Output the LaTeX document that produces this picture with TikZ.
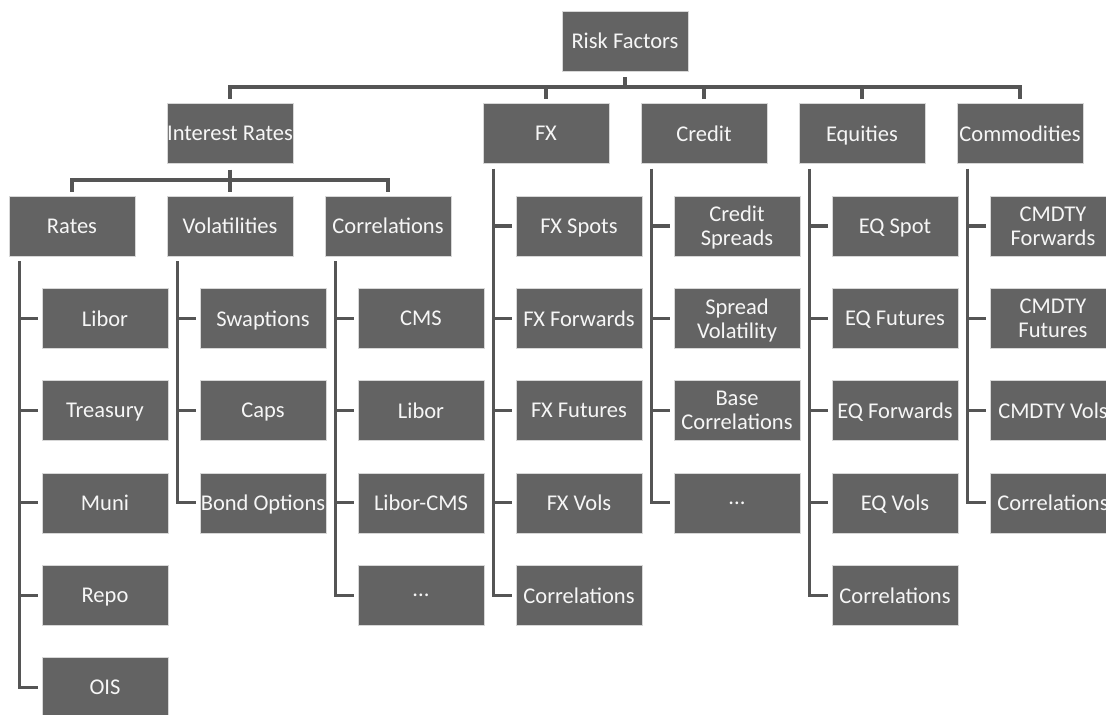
\documentclass[tikz,border=0pt]{standalone}
\usepackage{fontspec}
\setmainfont{Carlito}
\definecolor{boxfill}{RGB}{99,99,99}
\definecolor{boxedge}{RGB}{215,215,215}
\definecolor{linegray}{RGB}{85,85,85}
\definecolor{txt}{RGB}{246,246,246}
\newcommand{\wide}[1]{\makebox[0pt][c]{#1}}
\tikzset{
  rbox/.style={rectangle, minimum width=126pt, minimum height=60pt, inner sep=0pt,
    fill=boxfill, draw=boxedge, line width=0.7pt, text=txt, align=center, text depth=0pt,
    font=\fontsize{22.5}{24}\selectfont},
  conn/.style={draw=linegray, line width=3.1pt, line join=miter, line cap=butt}
}
\begin{document}
\begin{tikzpicture}[x=1pt,y=-1pt]
\useasboundingbox (0,0) rectangle (1106,715);
\clip (0,0) rectangle (1106,715);
% level 1
\node[rbox] (rf) at (625,41) {Risk Factors};
% level 2
\node[rbox] (ir) at (230,133.3) {\wide{Interest Rates}};
\node[rbox] (fx) at (546,133.3) {FX};
\node[rbox] (cr) at (704,133.3) {Credit};
\node[rbox] (eq) at (862,133.3) {Equities};
\node[rbox] (cm) at (1020,133.3) {\wide{Commodities}};
% level 3
\node[rbox] (ra) at (72,226) {Rates};
\node[rbox] (vo) at (230,226) {Volatilities};
\node[rbox] (co) at (388,226) {Correlations};
% rates leaves
\node[rbox] (ra1) at (105,318.3) {Libor};
\node[rbox] (ra2) at (105,410.6) {Treasury};
\node[rbox] (ra3) at (105,502.9) {Muni};
\node[rbox] (ra4) at (105,595.2) {Repo};
\node[rbox] (ra5) at (105,687.5) {OIS};
% volatilities leaves
\node[rbox] (vo1) at (263,318.3) {Swaptions};
\node[rbox] (vo2) at (263,410.6) {Caps};
\node[rbox] (vo3) at (263,502.9) {\wide{Bond Options}};
% correlations leaves
\node[rbox] (co1) at (421,318.3) {CMS};
\node[rbox] (co2) at (421,410.6) {Libor};
\node[rbox] (co3) at (421,502.9) {Libor-CMS};
\node[rbox] (co4) at (421,595.2) {...};
% FX leaves
\node[rbox] (fx1) at (579,226) {FX Spots};
\node[rbox] (fx2) at (579,318.3) {FX Forwards};
\node[rbox] (fx3) at (579,410.6) {FX Futures};
\node[rbox] (fx4) at (579,502.9) {FX Vols};
\node[rbox] (fx5) at (579,595.2) {Correlations};
% credit leaves
\node[rbox] (cr1) at (737,226) {Credit\\Spreads};
\node[rbox] (cr2) at (737,318.3) {Spread\\Volatility};
\node[rbox] (cr3) at (737,410.6) {Base\\Correlations};
\node[rbox] (cr4) at (737,502.9) {...};
% equities leaves
\node[rbox] (eq1) at (895,226) {EQ Spot};
\node[rbox] (eq2) at (895,318.3) {EQ Futures};
\node[rbox] (eq3) at (895,410.6) {EQ Forwards};
\node[rbox] (eq4) at (895,502.9) {EQ Vols};
\node[rbox] (eq5) at (895,595.2) {Correlations};
% commodities leaves
\node[rbox] (cm1) at (1053,226) {CMDTY\\Forwards};
\node[rbox] (cm2) at (1053,318.3) {CMDTY\\Futures};
\node[rbox] (cm3) at (1053,410.6) {\wide{CMDTY Vols}};
\node[rbox] (cm4) at (1053,502.9) {\wide{Correlations}};
% main bus
\coordinate (bus) at (625,87);
\draw[conn] ([yshift=-6pt]rf.south) -- (rf.south |- bus);
\draw[conn] ([yshift=4pt]ir.north) -- (ir.north |- bus) -- (cm.north |- bus) -- ([yshift=4pt]cm.north);
\foreach \n in {fx,cr,eq}{
  \draw[conn] ([yshift=4pt]\n.north) -- (\n.north |- bus);
}
% interest rates bus
\coordinate (irbus) at (230,180);
\draw[conn] ([yshift=-6pt]ir.south) -- (ir.south |- irbus);
\draw[conn] ([yshift=4pt]ra.north) -- (ra.north |- irbus) -- (co.north |- irbus) -- ([yshift=4pt]co.north);
\draw[conn] ([yshift=4pt]vo.north) -- (vo.north |- irbus);
% spines
\foreach \p/\last/\others in {ra/ra5/{ra1,ra2,ra3,ra4}, vo/vo3/{vo1,vo2}, co/co4/{co1,co2,co3},
    fx/fx5/{fx1,fx2,fx3,fx4}, cr/cr4/{cr1,cr2,cr3}, eq/eq5/{eq1,eq2,eq3,eq4}, cm/cm4/{cm1,cm2,cm3}}{
  \coordinate (\p s) at ([xshift=11pt,yshift=-5pt]\p.south west);
  \draw[conn] (\p s) |- ([xshift=-4pt]\last.west);
  \foreach \c in \others {
    \draw[conn] ([xshift=-4pt]\c.west) -- (\p s |- \c.west);
  }
}
\end{tikzpicture}
\end{document}
